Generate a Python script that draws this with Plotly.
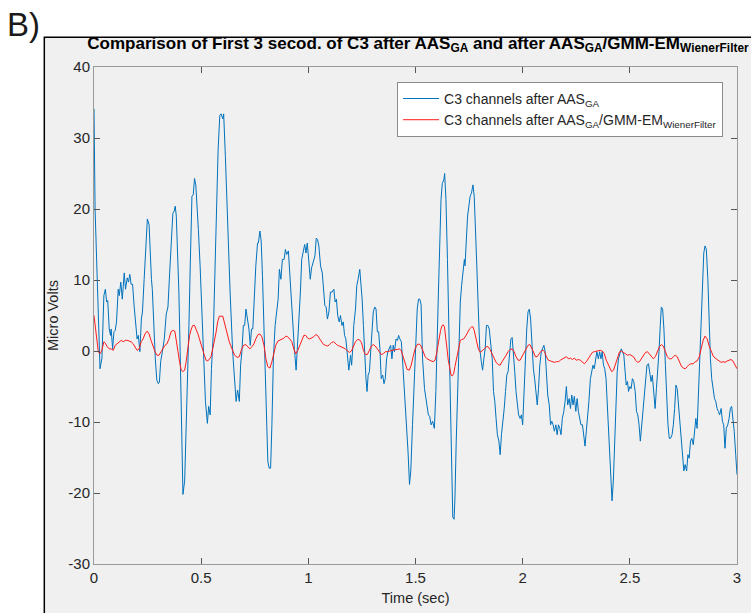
import plotly.graph_objects as go

# ---------------- data ----------------
t_blue = [0.000, 0.005, 0.028, 0.037, 0.046, 0.053, 0.059, 0.064, 0.071, 0.077, 0.080, 0.087, 0.093, 0.099, 0.105,
          0.113, 0.118, 0.125, 0.132, 0.141, 0.147, 0.155, 0.161, 0.167, 0.173, 0.180, 0.187, 0.195, 0.201, 0.207,
          0.214, 0.221, 0.226, 0.234, 0.241, 0.249, 0.257, 0.261, 0.268, 0.272, 0.279, 0.286, 0.293, 0.300, 0.305,
          0.311, 0.319, 0.328, 0.337, 0.345, 0.353, 0.361, 0.368, 0.374, 0.379, 0.384, 0.390, 0.396, 0.402, 0.409,
          0.415, 0.423, 0.430, 0.437, 0.443, 0.449, 0.457, 0.463, 0.469, 0.475, 0.480, 0.487, 0.495, 0.503, 0.511,
          0.520, 0.529, 0.535, 0.542, 0.548, 0.557, 0.565, 0.573, 0.579, 0.587, 0.593, 0.601, 0.605, 0.613, 0.624,
          0.635, 0.647, 0.656, 0.663, 0.670, 0.678, 0.684, 0.690, 0.697, 0.703, 0.709, 0.716, 0.723, 0.729, 0.735,
          0.741, 0.748, 0.755, 0.763, 0.767, 0.774, 0.780, 0.786, 0.793, 0.799, 0.805, 0.811, 0.817, 0.824, 0.830,
          0.837, 0.845, 0.853, 0.859, 0.865, 0.872, 0.879, 0.887, 0.893, 0.899, 0.907, 0.915, 0.922, 0.929, 0.935,
          0.943, 0.949, 0.957, 0.963, 0.969, 0.975, 0.983, 0.989, 0.995, 1.003, 1.009, 1.015, 1.023, 1.031, 1.037,
          1.043, 1.049, 1.057, 1.065, 1.071, 1.077, 1.083, 1.089, 1.096, 1.103, 1.111, 1.119, 1.125, 1.131, 1.137,
          1.144, 1.150, 1.157, 1.163, 1.169, 1.175, 1.182, 1.189, 1.197, 1.202, 1.208, 1.212, 1.220, 1.226, 1.232,
          1.240, 1.246, 1.251, 1.257, 1.263, 1.269, 1.274, 1.279, 1.285, 1.291, 1.297, 1.303, 1.310, 1.316, 1.322,
          1.328, 1.334, 1.340, 1.347, 1.353, 1.359, 1.365, 1.371, 1.377, 1.384, 1.390, 1.396, 1.402, 1.409, 1.416,
          1.421, 1.427, 1.434, 1.441, 1.449, 1.457, 1.465, 1.472, 1.478, 1.486, 1.494, 1.501, 1.508, 1.514, 1.520,
          1.526, 1.533, 1.542, 1.548, 1.554, 1.560, 1.566, 1.573, 1.580, 1.588, 1.595, 1.601, 1.607, 1.613, 1.619,
          1.625, 1.632, 1.636, 1.642, 1.649, 1.655, 1.661, 1.667, 1.674, 1.680, 1.684, 1.690, 1.696, 1.703, 1.709,
          1.715, 1.721, 1.728, 1.731, 1.737, 1.743, 1.749, 1.755, 1.761, 1.768, 1.774, 1.780, 1.786, 1.793, 1.800,
          1.807, 1.813, 1.819, 1.825, 1.831, 1.838, 1.844, 1.851, 1.858, 1.864, 1.870, 1.876, 1.882, 1.889, 1.895,
          1.901, 1.907, 1.914, 1.920, 1.926, 1.932, 1.938, 1.945, 1.951, 1.957, 1.963, 1.969, 1.975, 1.981, 1.988,
          1.994, 2.000, 2.006, 2.012, 2.019, 2.025, 2.031, 2.037, 2.043, 2.050, 2.056, 2.062, 2.068, 2.074, 2.080,
          2.087, 2.093, 2.099, 2.105, 2.111, 2.117, 2.124, 2.130, 2.136, 2.142, 2.148, 2.155, 2.161, 2.167, 2.173,
          2.179, 2.185, 2.192, 2.198, 2.204, 2.210, 2.217, 2.223, 2.229, 2.235, 2.241, 2.248, 2.254, 2.260, 2.266,
          2.272, 2.279, 2.285, 2.291, 2.297, 2.303, 2.309, 2.316, 2.322, 2.328, 2.334, 2.340, 2.346, 2.353, 2.359,
          2.365, 2.371, 2.377, 2.383, 2.389, 2.395, 2.403, 2.410, 2.417, 2.423, 2.429, 2.435, 2.441, 2.447, 2.454,
          2.460, 2.466, 2.472, 2.478, 2.483, 2.489, 2.494, 2.500, 2.506, 2.512, 2.518, 2.525, 2.531, 2.537, 2.543,
          2.549, 2.556, 2.562, 2.568, 2.574, 2.580, 2.587, 2.593, 2.599, 2.605, 2.611, 2.618, 2.624, 2.630, 2.636,
          2.642, 2.647, 2.653, 2.659, 2.666, 2.672, 2.678, 2.684, 2.690, 2.697, 2.703, 2.709, 2.715, 2.721, 2.727,
          2.734, 2.740, 2.746, 2.752, 2.758, 2.765, 2.771, 2.777, 2.783, 2.789, 2.796, 2.802, 2.808, 2.814, 2.820,
          2.827, 2.833, 2.839, 2.845, 2.851, 2.857, 2.864, 2.870, 2.876, 2.882, 2.889, 2.895, 2.901, 2.907, 2.913,
          2.919, 2.926, 2.932, 2.938, 2.944, 2.950, 2.957, 2.963, 2.969, 2.975, 2.981, 2.987, 2.994, 3.000]
v_blue = [34.1, 20.0, -2.5, -1.0, 7.8, 8.7, 6.9, 7.1, 3.1, 2.2, 3.1, 0.3, 2.7, 2.9, 4.1,
          8.7, 7.8, 9.7, 7.3, 11.0, 8.7, 10.3, 9.7, 10.8, 9.4, 9.4, 6.4, 3.6, 1.7, 2.2,
          -0.1, 4.5, 5.5, 10.1, 13.8, 18.6, 17.8, 13.8, 10.1, 8.7, 2.7, -1.1, -4.1, -4.6, -4.4,
          -1.5, -0.1, 1.7, 5.2, 6.2, 11.0, 15.5, 19.4, 19.7, 20.4, 19.0, 14.8, 8.3, -0.1, -9.9,
          -20.2, -18.3, -11.3, -5.3, 3.6, 12.0, 21.8, 22.0, 24.3, 23.4, 19.9, 17.1, 12.0, 5.5, -1.1,
          -7.1, -10.2, -7.8, -9.0, -2.5, 2.7, 12.9, 21.3, 28.3, 33.2, 33.4, 32.7, 33.4, 27.4, 17.1,
          8.3, -0.1, -3.9, -7.1, -5.5, -7.1, -2.0, -0.1, 3.6, 3.6, 5.9, 4.5, 3.1, 0.8, 3.1,
          3.1, 8.3, 12.0, 15.2, 15.2, 16.9, 15.5, 10.6, 3.6, -3.4, -10.4, -15.5, -16.5, -16.5, -10.4,
          -1.1, 3.6, 6.4, 7.3, 11.5, 10.1, 12.9, 12.9, 14.3, 13.6, 14.1, 10.1, 5.5, 2.7, 0.3,
          -2.7, 0.3, 4.5, 8.3, 12.9, 13.8, 15.0, 13.8, 15.2, 12.4, 10.1, 11.7, 12.4, 13.4, 15.9,
          15.7, 14.8, 12.0, 11.0, 8.3, 6.4, 6.2, 4.5, 5.5, 8.3, 8.3, 8.7, 6.9, 7.3, 5.0,
          4.1, 5.0, 3.6, 4.1, 2.2, 1.7, -0.6, -2.7, -0.6, -2.0, 0.8, 3.6, 5.9, 9.2, 10.1,
          11.5, 9.2, 7.3, 3.6, -1.1, -3.9, -5.7, -3.4, -2.9, -0.1, 2.7, 5.5, 6.2, 5.9, 2.7,
          2.7, 0.3, -3.9, -3.4, -4.6, -3.9, -1.1, -0.1, 0.3, 0.8, -1.1, 0.8, -0.1, 1.7, 1.5,
          2.2, 1.7, 1.3, -2.0, -5.7, -9.9, -14.1, -18.8, -16.9, -10.4, -3.4, 2.7, 5.9, 7.3, 7.3,
          6.6, -1.1, -5.3, -6.7, -8.1, -9.0, -9.2, -10.4, -9.9, -10.9, -5.7, -0.1, 8.3, 14.8, 21.3,
          23.6, 24.1, 25.0, 21.3, 12.9, 3.6, -5.7, -15.1, -23.4, -23.7, -20.7, -12.7, -5.7, 1.3, 6.9,
          9.2, 11.5, 12.9, 12.0, 16.6, 19.0, 20.4, 21.8, 22.2, 23.4, 21.8, 17.6, 12.0, 5.9, 0.3,
          -1.5, -2.7, -1.1, 0.3, 3.6, 3.6, 3.1, 1.3, -1.1, -5.7, -7.1, -9.5, -11.8, -12.7, -14.6,
          -11.8, -10.4, -8.1, -5.7, -3.4, -2.9, -0.6, 1.7, 1.9, -0.1, -2.9, -5.7, -7.6, -9.0, -9.5,
          -9.0, -10.4, -5.7, -1.1, 3.1, 5.5, 5.9, 4.5, 0.8, -2.5, -3.9, -5.7, -7.6, -5.3, -2.0,
          -0.1, 0.3, 0.8, -0.1, -3.9, -6.2, -7.6, -10.4, -9.9, -10.4, -11.3, -10.4, -11.8, -10.4, -10.9,
          -11.8, -9.5, -8.5, -7.1, -5.0, -7.6, -6.7, -8.1, -6.2, -7.6, -6.4, -8.5, -6.7, -8.5, -9.5,
          -10.4, -10.4, -11.8, -13.4, -11.3, -9.5, -7.1, -3.9, -2.9, -2.0, -2.5, -1.1, -0.1, -1.1, -0.1,
          -1.1, -0.1, -2.0, -2.5, -3.9, -7.6, -12.0, -16.5, -21.1, -18.3, -12.7, -6.7, -2.9, -1.1, -0.1,
          0.3, -0.1, -0.6, -2.9, -4.8, -4.3, -5.7, -5.0, -5.3, -3.9, -4.3, -5.7, -8.5, -9.0, -10.4,
          -12.7, -10.4, -8.5, -6.2, -4.3, -2.0, -1.8, -2.9, -4.3, -3.4, -6.2, -8.1, -5.3, -2.9, -0.1,
          3.6, 6.2, 5.9, 3.1, -2.0, -6.7, -10.4, -12.3, -12.3, -11.8, -10.4, -8.1, -4.8, -5.3, -7.6,
          -10.4, -12.7, -15.1, -16.9, -16.0, -16.9, -14.6, -15.1, -12.7, -12.3, -13.2, -11.3, -9.5, -10.9, -5.7,
          -1.1, 4.5, 9.2, 13.8, 14.8, 14.3, 10.1, 3.6, -1.1, -3.9, -5.3, -6.7, -7.1, -8.1, -8.5,
          -9.0, -8.1, -9.9, -10.4, -13.7, -10.9, -10.4, -9.5, -8.1, -7.8, -9.5, -11.3, -14.6, -17.4]

t_red = [0.000, 0.012, 0.020, 0.028, 0.037, 0.046, 0.053, 0.062, 0.071, 0.080, 0.090, 0.099, 0.108, 0.118, 0.127,
         0.136, 0.146, 0.155, 0.164, 0.173, 0.183, 0.192, 0.201, 0.211, 0.220, 0.229, 0.238, 0.248, 0.257, 0.266,
         0.276, 0.285, 0.294, 0.303, 0.313, 0.322, 0.331, 0.340, 0.350, 0.359, 0.368, 0.377, 0.384, 0.392, 0.399,
         0.407, 0.415, 0.423, 0.430, 0.438, 0.446, 0.454, 0.461, 0.469, 0.477, 0.485, 0.492, 0.500, 0.508, 0.515,
         0.523, 0.531, 0.539, 0.546, 0.554, 0.562, 0.570, 0.577, 0.585, 0.601, 0.608, 0.619, 0.631, 0.644, 0.656,
         0.668, 0.678, 0.687, 0.697, 0.709, 0.718, 0.727, 0.737, 0.746, 0.755, 0.765, 0.774, 0.783, 0.793, 0.802,
         0.811, 0.821, 0.830, 0.839, 0.848, 0.858, 0.867, 0.876, 0.886, 0.895, 0.904, 0.913, 0.923, 0.932, 0.941,
         0.951, 0.960, 0.969, 0.979, 0.988, 0.997, 1.006, 1.016, 1.025, 1.034, 1.043, 1.053, 1.062, 1.071, 1.081,
         1.090, 1.099, 1.109, 1.118, 1.127, 1.136, 1.146, 1.155, 1.164, 1.173, 1.183, 1.192, 1.201, 1.210, 1.220,
         1.229, 1.238, 1.248, 1.257, 1.266, 1.275, 1.285, 1.294, 1.303, 1.312, 1.322, 1.331, 1.340, 1.350, 1.359,
         1.368, 1.378, 1.387, 1.396, 1.405, 1.415, 1.424, 1.433, 1.443, 1.452, 1.461, 1.471, 1.480, 1.489, 1.498,
         1.508, 1.517, 1.526, 1.536, 1.545, 1.554, 1.564, 1.573, 1.582, 1.591, 1.598, 1.604, 1.610, 1.617, 1.623,
         1.629, 1.635, 1.641, 1.647, 1.653, 1.660, 1.666, 1.672, 1.678, 1.684, 1.691, 1.697, 1.703, 1.709, 1.715,
         1.725, 1.734, 1.743, 1.752, 1.762, 1.768, 1.774, 1.780, 1.786, 1.793, 1.802, 1.811, 1.821, 1.830, 1.839,
         1.848, 1.858, 1.867, 1.876, 1.886, 1.895, 1.904, 1.914, 1.923, 1.932, 1.941, 1.951, 1.960, 1.969, 1.979,
         1.988, 1.997, 2.006, 2.016, 2.025, 2.034, 2.040, 2.050, 2.059, 2.068, 2.077, 2.087, 2.096, 2.102, 2.111,
         2.120, 2.130, 2.139, 2.148, 2.158, 2.167, 2.176, 2.185, 2.195, 2.204, 2.213, 2.223, 2.232, 2.241, 2.250,
         2.260, 2.269, 2.278, 2.288, 2.297, 2.306, 2.315, 2.325, 2.334, 2.343, 2.352, 2.362, 2.371, 2.381, 2.390,
         2.399, 2.406, 2.415, 2.424, 2.434, 2.443, 2.452, 2.461, 2.471, 2.480, 2.489, 2.499, 2.508, 2.517, 2.527,
         2.536, 2.545, 2.554, 2.564, 2.573, 2.582, 2.591, 2.601, 2.610, 2.619, 2.628, 2.638, 2.647, 2.656, 2.666,
         2.675, 2.684, 2.694, 2.703, 2.712, 2.721, 2.731, 2.740, 2.749, 2.759, 2.768, 2.777, 2.786, 2.796, 2.805,
         2.814, 2.824, 2.833, 2.842, 2.851, 2.861, 2.870, 2.879, 2.889, 2.898, 2.907, 2.916, 2.926, 2.935, 2.944,
         2.954, 2.963, 2.972, 2.981, 2.991, 3.000]
v_red = [5.0, 1.7, -0.1, -0.4, 0.1, 1.3, 1.1, 0.6, 0.3, 0.3, 0.1, 0.8, 1.0, 1.3, 1.5,
         1.3, 1.5, 1.5, 1.4, 1.3, 1.0, 0.6, 0.1, 0.3, 1.3, 1.7, 2.4, 2.8, 2.4, 1.5,
         0.6, -0.1, -0.6, -0.6, -0.1, 0.3, 0.8, 1.0, 1.7, 2.7, 2.9, 2.8, 1.7, -0.1, -1.5,
         -2.7, -2.9, -2.7, -1.5, 0.3, 2.2, 3.1, 3.6, 3.6, 3.1, 2.4, 1.7, 0.8, 0.1, -0.6,
         -1.3, -1.4, -1.1, -0.8, 0.3, 1.3, 2.7, 4.1, 4.9, 4.9, 4.1, 2.7, 1.3, 0.3, -0.6,
         -0.9, -0.8, 0.1, 0.8, 0.9, 0.6, 0.3, 0.6, 1.0, 1.7, 2.3, 2.4, 2.0, 0.8, -1.1,
         -2.2, -2.4, -1.5, -0.1, 0.8, 1.4, 1.5, 1.7, 1.8, 2.1, 2.0, 1.7, 1.3, 0.3, -0.4,
         0.1, 0.8, 1.7, 2.2, 2.2, 1.8, 1.7, 1.8, 2.0, 2.3, 2.2, 1.7, 1.3, 0.9, 0.8,
         0.7, 0.9, 1.2, 1.3, 1.0, 0.8, 0.7, 0.6, 0.4, 0.3, 0.0, -0.2, 0.0, 0.6, 1.3,
         1.6, 1.6, 1.2, 0.1, -0.5, -0.5, 0.1, 0.7, 0.9, 0.7, 0.3, -0.2, -0.5, -0.4, -0.1,
         -0.1, 0.0, 0.1, 0.1, 0.2, 0.2, 0.3, 0.1, -0.8, -1.9, -2.6, -2.7, -2.0, -0.8, 0.3,
         0.9, 1.0, 0.7, -0.1, -0.8, -1.1, -1.3, -1.4, -1.5, -1.3, -0.4, 0.8, 2.0, 2.9, 3.5,
         3.7, 3.4, 2.2, 0.3, -1.3, -2.7, -3.4, -3.5, -3.2, -2.2, -1.1, 0.1, 0.8, 1.5, 1.6,
         1.7, 2.1, 2.7, 3.1, 3.4, 3.4, 2.9, 2.0, 1.0, 0.3, -0.2, 0.0, 0.3, 0.6, 0.6,
         0.2, -0.4, -1.1, -1.6, -1.9, -2.0, -1.5, -1.1, -0.6, -0.1, 0.2, 0.3, -0.1, -0.8, -1.3,
         -1.3, -0.8, -0.1, 0.4, 0.8, 0.9, 0.6, -0.1, -0.8, -0.8, -0.4, 0.0, 0.1, -0.1, -0.8,
         -1.3, -1.4, -1.5, -1.6, -1.5, -1.5, -1.3, -1.1, -1.0, -0.8, -1.1, -1.0, -1.2, -1.0, -1.3,
         -1.2, -1.3, -1.5, -1.8, -1.5, -1.1, -0.6, -0.2, -0.1, 0.0, 0.0, 0.1, 0.0, -0.4, -1.3,
         -1.9, -2.2, -2.9, -2.7, -1.8, -0.8, -0.1, 0.0, -0.2, -0.5, -0.6, -0.5, -0.6, -0.8, -1.3,
         -1.6, -1.5, -1.1, -0.6, -0.2, -0.1, -0.4, -0.8, -1.1, -0.8, -0.1, 0.6, 0.9, 0.7, -0.1,
         -0.8, -1.1, -1.1, -0.8, -0.6, -0.8, -1.5, -2.1, -2.4, -2.5, -2.2, -1.9, -1.8, -1.8, -1.5,
         -1.4, -0.8, 0.3, 1.5, 2.1, 1.7, 0.7, -0.1, -0.7, -1.0, -1.2, -1.4, -1.6, -1.5, -1.6,
         -1.4, -1.3, -1.2, -1.4, -1.9, -2.5]

x_ticks = [0, 0.5, 1, 1.5, 2, 2.5, 3]
x_tick_labels = ["0", "0.5", "1", "1.5", "2", "2.5", "3"]
y_ticks = [-30, -20, -10, 0, 10, 20, 30, 40]
y_tick_labels = ["-30", "-20", "-10", "0", "10", "20", "30", "40"]

name_blue = "C3 channels after AAS<sub>GA</sub>"
name_red = "C3 channels after AAS<sub>GA</sub>/GMM-EM<sub>WienerFilter</sub>"
title_text = ("<b>Comparison of First 3 secod. of C3 after AAS<sub>GA</sub> and after "
              "AAS<sub>GA</sub>/GMM-EM<sub>WienerFilter</sub></b>")

# ---------------- figure ----------------
W, H = 751, 613
ML, MR, MT, MB = 94, 10, 67, 46
PW, PH = W - ML - MR, H - MT - MB

def px_x(px):
    return (px - ML) / PW

def px_y(py):
    return 1 - (py - MT) / PH

FONT = "Liberation Sans, Arial, Helvetica, sans-serif"
TXT = "#262626"

fig = go.Figure()
fig.add_trace(go.Scatter(x=t_blue, y=v_blue, mode="lines", name=name_blue,
                         line=dict(color="#0072BD", width=1)))
fig.add_trace(go.Scatter(x=t_red, y=v_red, mode="lines", name=name_red,
                         line=dict(color="#FF1A1A", width=1)))

axis_common = dict(showgrid=False, zeroline=False, showline=True, linecolor="#9a9a9a", linewidth=1,
                   mirror="ticks", ticks="inside", ticklen=6, tickcolor="#555555", tickwidth=1,
                   tickfont=dict(family=FONT, size=15, color=TXT))

fig.update_layout(
    width=W, height=H,
    margin=dict(l=ML, r=MR, t=MT, b=MB, pad=0),
    paper_bgcolor="white", plot_bgcolor="white",
    font=dict(family=FONT, color=TXT),
    title=dict(text=title_text, x=418 / W, xref="container", xanchor="center",
               y=1 - 37 / H, yref="container", yanchor="top",
               font=dict(family=FONT, size=17, color="black")),
    xaxis=dict(range=[0, 3], tickvals=x_ticks, ticktext=x_tick_labels,
               title=dict(text="Time (sec)", font=dict(family=FONT, size=14.5, color=TXT), standoff=7),
               **axis_common),
    yaxis=dict(range=[-30, 40], tickvals=y_ticks, ticktext=y_tick_labels,
               title=dict(text="Micro Volts", font=dict(family=FONT, size=14.5, color=TXT), standoff=6),
               **axis_common),
    legend=dict(x=px_x(727), xanchor="right", y=px_y(82), yanchor="top",
                bgcolor="white", bordercolor="#8a8a8a", borderwidth=1, itemwidth=36,
                font=dict(family=FONT, size=14, color=TXT), tracegroupgap=0),
    showlegend=True,
)

# grey figure panel with black frame (MATLAB window look)
fig.add_shape(type="rect", xref="paper", yref="paper", layer="below",
              x0=px_x(44), x1=px_x(770), y0=px_y(640), y1=px_y(37),
              fillcolor="#f0f0f0", line=dict(color="black", width=1.5))

fig.add_annotation(text="B)", xref="paper", yref="paper", x=px_x(4), y=px_y(24),
                   xanchor="left", yanchor="middle", showarrow=False,
                   font=dict(family=FONT, size=33, color="#1a1a1a"))

fig.write_html("out.html")
